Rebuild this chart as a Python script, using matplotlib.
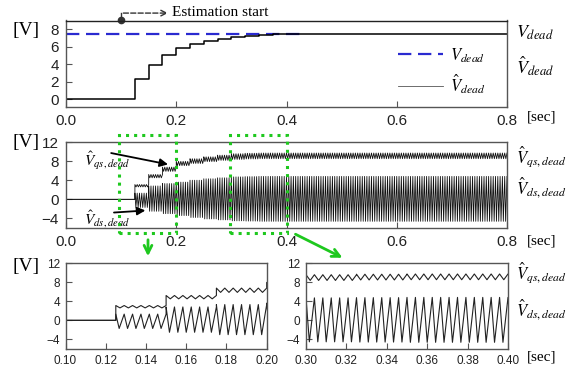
import matplotlib
matplotlib.use("Agg")
import matplotlib.pyplot as plt
from matplotlib.patches import Rectangle, FancyArrowPatch

plt.rcParams["font.family"] = ["Liberation Sans", "DejaVu Sans"]
plt.rcParams["mathtext.fontset"] = "stix"

# ---- data ----
t_end = 0.8
period = 1 / 240  # ripple period of the estimated voltages [sec]
step_t = [0.125, 0.15, 0.175, 0.2, 0.225, 0.25, 0.275, 0.3, 0.325, 0.35, 0.375, 0.4, 0.425]
vdead_hat = [2.35, 3.95, 5.0, 5.8, 6.35, 6.67, 6.93, 7.1, 7.25, 7.35, 7.43, 7.48, 7.5]
vdead_ref_t = [0.0, 0.43]
vdead_ref = [7.5, 7.5]
vqs_level = [2.85, 4.85, 6.3, 7.5, 8.0, 8.4, 8.7, 8.95, 9.05, 9.1, 9.1, 9.1, 9.1]
vqs_ripple = [0.25, 0.35, 0.45, 0.45, 0.5, 0.5, 0.55, 0.6, 0.6, 0.6, 0.6, 0.6, 0.6]
vds_level = [-0.2, 0.15, 0.15, 0.1, 0.1, 0.1, 0.1, 0.1, 0.1, 0.1, 0.1, 0.1, 0.1]
vds_amp = [1.5, 2.65, 3.15, 3.5, 3.9, 4.2, 4.4, 4.6, 4.65, 4.7, 4.7, 4.7, 4.7]
# one period of each ripple: (phase, normalised value)
qs_shape_p = [0.0, 0.5, 1.0]
qs_shape_v = [1.0, -1.0, 1.0]
ds_shape_p = [0.0, 0.4, 1.0]
ds_shape_v = [1.0, -1.0, 1.0]

top_yticks = [0, 2, 4, 6, 8]
mid_yticks = [-4, 0, 4, 8, 12]
top_xticks = [0.0, 0.2, 0.4, 0.6, 0.8]
zoom1_xticks = [0.10, 0.12, 0.14, 0.16, 0.18, 0.20]
zoom2_xticks = [0.30, 0.32, 0.34, 0.36, 0.38, 0.40]


def ripple_wave(levels, amps, shape_p, shape_v):
    ts, vs = [0.0, step_t[0]], [0.0, 0.0]
    ends = step_t[1:] + [t_end]
    for t0, t1, lev, amp in zip(step_t, ends, levels, amps):
        n = int(round((t1 - t0) / period))
        for k in range(n):
            for p, s in zip(shape_p, shape_v):
                ts.append(t0 + (k + p) * period)
                vs.append(lev + amp * s)
    return ts, vs


qs_t, qs_v = ripple_wave(vqs_level, vqs_ripple, qs_shape_p, qs_shape_v)
ds_t, ds_v = ripple_wave(vds_level, vds_amp, ds_shape_p, ds_shape_v)

W, H = 574, 375
fig = plt.figure(figsize=(W / 100, H / 100), dpi=100)


def px_axes(l, t, r, b):
    return fig.add_axes([l / W, 1 - b / H, (r - l) / W, (b - t) / H])


def ftext(x, y, s, **kw):
    return fig.text(x / W, 1 - y / H, s, **kw)


def style(ax, size):
    for sp in ax.spines.values():
        sp.set_color("#555555")
        sp.set_linewidth(1.0)
    ax.tick_params(direction="in", length=4, width=0.8, color="#555555",
                   labelsize=size, labelcolor="#222222", pad=5)


serif = ["Liberation Serif", "DejaVu Serif"]
lbl = dict(fontsize=13, ha="left", va="center")
small_lbl = dict(fontsize=12, ha="left", va="center")

# ---- top panel: dead-time voltage estimate ----
ax1 = px_axes(66, 20.5, 507, 107.3)
ax1.plot(vdead_ref_t, vdead_ref, color="#2a2ad0", lw=1.6, ls=(0, (6, 3)),
         label=r"$V_{dead}$")
ax1.plot([0.0] + step_t + [t_end], [0.0] + vdead_hat + [vdead_hat[-1]],
         drawstyle="steps-post", color="black", lw=1.1, label=r"$\hat{V}_{dead}$")
ax1.set_xlim(0, t_end)
ax1.set_ylim(-0.95, 9.0)
ax1.set_xticks(top_xticks)
ax1.set_xticklabels([f"{v:.1f}" for v in top_xticks])
ax1.set_yticks(top_yticks)
style(ax1, 11)
ax1.spines["top"].set_color("#222222")
leg = ax1.legend(frameon=False, loc="upper left", bbox_to_anchor=(0.735, 0.8),
                 fontsize=12, handlelength=2.7, handletextpad=0.4,
                 labelspacing=0.5, borderpad=0)
leg.get_lines()[1].set_linewidth(0.6)
leg.get_lines()[1].set_color("#555555")

# estimation start marker
ax1.plot([0.1], [9.0], "o", color="#333333", ms=4.5, clip_on=False)
ax1.plot([0.1, 0.1], [9.0, 9.85], color="#333333", lw=1, clip_on=False)
ax1.annotate("", xy=(0.19, 9.85), xytext=(0.099, 9.85), xycoords="data",
             arrowprops=dict(arrowstyle="->", ls="--", lw=1, color="#333333"),
             annotation_clip=False)
ax1.text(0.193, 9.95, "Estimation start", fontsize=11, family=serif,
         va="center", ha="left", clip_on=False)

# ---- middle panel: dq estimates over whole run ----
ax2 = px_axes(66, 142, 507, 228)
ax2.plot(qs_t, qs_v, color="#111111", lw=0.6)
ax2.plot(ds_t, ds_v, color="#111111", lw=0.6)
ax2.set_xlim(0, t_end)
ax2.set_ylim(-6, 12)
ax2.set_xticks(top_xticks)
ax2.set_xticklabels([f"{v:.1f}" for v in top_xticks])
ax2.set_yticks(mid_yticks)
style(ax2, 11)
green = "#1ec81e"
for x0, x1 in [(0.097, 0.2), (0.298, 0.4)]:
    ax2.add_patch(Rectangle((x0, -7.05), x1 - x0, 20.55, fill=False,
                            ec=green, ls=":", lw=2.2, clip_on=False, zorder=5))
ax2.annotate("", xy=(0.19, 7.2), xytext=(0.077, 9.8),
             arrowprops=dict(arrowstyle="-|>", lw=1.3, color="black",
                             mutation_scale=12))
ax2.annotate("", xy=(0.149, -2.3), xytext=(0.082, -2.8),
             arrowprops=dict(arrowstyle="-|>", lw=1.3, color="black",
                             mutation_scale=12))
ax2.text(0.033, 8.0, r"$\hat{V}_{qs,dead}$", fontsize=11, va="center")
ax2.text(0.033, -4.1, r"$\hat{V}_{ds,dead}$", fontsize=11, va="center")

# ---- bottom zooms ----
ax3 = px_axes(65.5, 263, 266.7, 349)
ax4 = px_axes(306, 263, 508, 349)
for ax, ticks in [(ax3, zoom1_xticks), (ax4, zoom2_xticks)]:
    ax.plot(qs_t, qs_v, color="#222222", lw=0.8)
    ax.plot(ds_t, ds_v, color="#222222", lw=0.8)
    ax.set_xlim(ticks[0], ticks[-1])
    ax.set_ylim(-6, 12)
    ax.set_xticks(ticks)
    ax.set_xticklabels([f"{v:.2f}" for v in ticks])
    ax.set_yticks(mid_yticks)
    style(ax, 8.5)
    ax.tick_params(pad=4)

# green arrows to zooms
for (xa, ya), (xb, yb) in [((148, 237), (148, 259)), ((293, 233), (345, 259))]:
    fig.add_artist(FancyArrowPatch(
        (xa / W, 1 - ya / H), (xb / W, 1 - yb / H), transform=fig.transFigure,
        arrowstyle="->", mutation_scale=14, lw=2, color=green))

# ---- axis unit labels and right side labels ----
for y in [30, 143, 266]:
    ftext(13, y, "[V]", fontsize=14, family=serif, va="center", ha="left")
for y in [117, 241]:
    ftext(527, y, "[sec]", fontsize=11, family=serif, va="center", ha="left")
ftext(527, 357, "[sec]", fontsize=11, family=serif, va="center", ha="left")

ftext(516, 33, r"$V_{dead}$", **lbl)
ftext(516, 66, r"$\hat{V}_{dead}$", **lbl)
ftext(516, 157, r"$\hat{V}_{qs,dead}$", **small_lbl)
ftext(516, 188, r"$\hat{V}_{ds,dead}$", **small_lbl)
ftext(516, 273, r"$\hat{V}_{qs,dead}$", **small_lbl)
ftext(516, 310, r"$\hat{V}_{ds,dead}$", **small_lbl)

fig.savefig("out.png", dpi=100)
